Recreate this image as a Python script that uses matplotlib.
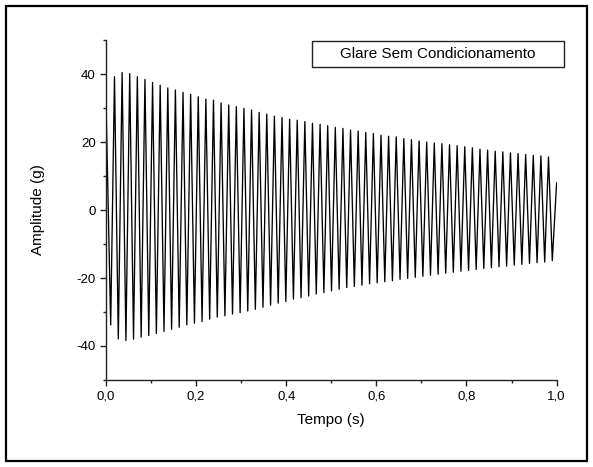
import matplotlib
matplotlib.use("Agg")
import matplotlib.pyplot as plt
from matplotlib.patches import Rectangle
from matplotlib.ticker import MultipleLocator, FixedLocator, FixedFormatter

plt.rcParams['font.family'] = ['Liberation Sans', 'DejaVu Sans']

# Acceleration record: value at t = 0, successive minima / maxima, final value (g)
start_value = 32.0
troughs = [-33.8, -37.9, -38.4, -38.0, -37.4, -36.9, -36.3, -35.7, -35.1, -34.5,
           -33.8, -33.3, -32.8, -32.1, -31.5, -31.1, -30.6, -30.2, -29.7, -29.2,
           -28.6, -28.0, -27.4, -26.9, -26.2, -25.8, -25.3, -24.7, -24.3, -23.8,
           -23.3, -22.8, -22.5, -22.1, -21.7, -21.4, -21.1, -20.8, -20.4, -20.1,
           -19.8, -19.5, -19.2, -18.9, -18.6, -18.3, -18.0, -17.8, -17.5, -17.2,
           -17.0, -16.7, -16.5, -16.2, -16.0, -15.7, -15.5, -15.3, -14.9]
peaks = [39.2, 40.4, 40.1, 39.2, 38.4, 37.5, 36.7, 35.9, 35.3, 34.6,
         34.0, 33.3, 32.6, 32.3, 31.5, 30.9, 30.4, 29.9, 29.4, 28.7,
         28.2, 27.6, 27.2, 26.7, 26.4, 26.0, 25.5, 25.2, 24.8, 24.3,
         24.0, 23.5, 23.2, 22.8, 22.5, 22.0, 21.7, 21.5, 21.0, 20.7,
         20.3, 20.0, 19.7, 19.5, 19.2, 18.9, 18.6, 18.3, 17.9, 17.6,
         17.3, 17.1, 16.8, 16.6, 16.3, 16.1, 15.9, 15.6]
end_value = 8.0
first_trough_time = 0.0104   # s
half_period = 0.008449       # s
end_time = 1.0               # s

legend_label = "Glare Sem Condicionamento"
x_label = "Tempo (s)"
y_label = "Amplitude (g)"
x_ticks = [0.0, 0.2, 0.4, 0.6, 0.8, 1.0]
x_tick_labels = ["0,0", "0,2", "0,4", "0,6", "0,8", "1,0"]
y_ticks = [-40, -20, 0, 20, 40]
y_tick_labels = ["-40", "-20", "0", "20", "40"]

# Interleave extrema: T0, P0, T1, P1, ..., P57, T58
extrema = []
for i, tr in enumerate(troughs):
    extrema.append(tr)
    if i < len(peaks):
        extrema.append(peaks[i])

times = [0.0] + [first_trough_time + k * half_period for k in range(len(extrema))] + [end_time]
values = [start_value] + extrema + [end_value]

W, H = 593, 467
fig = plt.figure(figsize=(W / 100, H / 100), dpi=100)
fig.patch.set_facecolor("white")

# outer frame around the whole page
fig.patches.append(Rectangle((6 / W, 6 / H), 581 / W, 455 / H, transform=fig.transFigure,
                             fill=False, lw=1.6, ec="black"))

left, right, bottom, top = 106, 556.6, 380, 40
ax = fig.add_axes([left / W, 1 - bottom / H, (right - left) / W, (bottom - top) / H])

ax.plot(times, values, color="black", lw=0.95, solid_joinstyle="round")

ax.set_xlim(0, 1.0)
ax.set_ylim(-50, 50)
for side in ("top", "right"):
    ax.spines[side].set_visible(False)
for side in ("left", "bottom"):
    ax.spines[side].set_linewidth(1.0)
    ax.spines[side].set_color("#222222")

ax.xaxis.set_major_locator(FixedLocator(x_ticks))
ax.xaxis.set_major_formatter(FixedFormatter(x_tick_labels))
ax.xaxis.set_minor_locator(MultipleLocator(0.1))
ax.yaxis.set_major_locator(FixedLocator(y_ticks))
ax.yaxis.set_major_formatter(FixedFormatter(y_tick_labels))
ax.yaxis.set_minor_locator(MultipleLocator(10))
ax.tick_params(which="major", direction="out", length=4.5, width=1.0, labelsize=9.5, pad=3,
               color="#222222")
ax.tick_params(which="minor", direction="out", length=2.5, width=1.0, color="#222222")

ax.set_xlabel(x_label, fontsize=11)
ax.set_ylabel(y_label, fontsize=11)
ax.xaxis.set_label_coords(0.5, (bottom - 413) / (bottom - top))
ax.yaxis.set_label_coords((45 - left) / (right - left), 0.5)

# legend box with label only
bx0, bx1, by0, by1 = 312, 564, 40.7, 66.7
ax.add_patch(Rectangle(((bx0 - left) / (right - left), (bottom - by1) / (bottom - top)),
                       (bx1 - bx0) / (right - left), (by1 - by0) / (bottom - top),
                       transform=ax.transAxes, fill=False, lw=1.0, ec="#222222",
                       clip_on=False))
ax.text(((bx0 + bx1) / 2 - left) / (right - left), (bottom - (by0 + by1) / 2) / (bottom - top),
        legend_label, transform=ax.transAxes, ha="center", va="center", fontsize=11)

fig.savefig("out.png", dpi=100)
